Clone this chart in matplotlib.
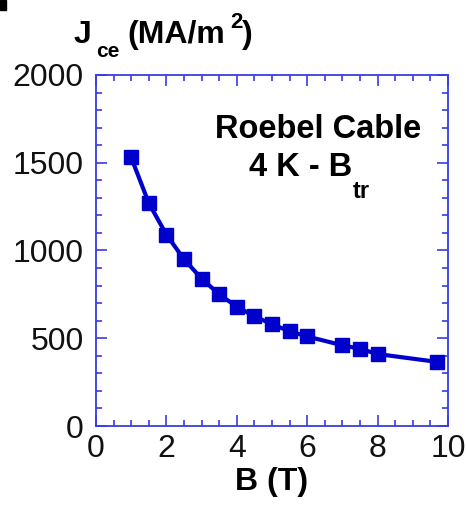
import matplotlib
matplotlib.use("Agg")
import matplotlib.pyplot as plt
from matplotlib.patches import Rectangle
from matplotlib.ticker import MultipleLocator

# Jce vs field for the Roebel cable at 4 K
B_field = [1.0, 1.5, 2.0, 2.5, 3.0, 3.5, 4.0, 4.5, 5.0, 5.5, 6.0, 7.0, 7.5, 8.0, 9.7]
J_ce = [1530, 1270, 1090, 950, 840, 750, 680, 625, 580, 540, 510, 460, 440, 410, 365]

x_ticks = [0, 2, 4, 6, 8, 10]
y_ticks = [0, 500, 1000, 1500, 2000]

W, H = 466, 505
plt.rcParams['font.family'] = ['Liberation Sans', 'DejaVu Sans']

fig = plt.figure(figsize=(W / 100, H / 100), dpi=100)
ax = fig.add_axes([96 / W, 1 - 426 / H, (448 - 96) / W, (426 - 75) / H])

line_col = '#0000cc'
axis_col = '#3a3ae6'

ax.plot(B_field, J_ce, color=line_col, lw=3.0, marker='s', ms=10.5,
        mfc=line_col, mec=line_col)

ax.set_xlim(0, 10)
ax.set_ylim(0, 2000)
ax.set_xticks(x_ticks)
ax.set_yticks(y_ticks)
ax.xaxis.set_minor_locator(MultipleLocator(0.5))
ax.yaxis.set_minor_locator(MultipleLocator(100))

for sp in ax.spines.values():
    sp.set_color(axis_col)
    sp.set_linewidth(1.3)

ax.tick_params(which='both', direction='in', top=True, right=True,
               color=axis_col, width=1.2, labelsize=23, labelcolor='#111111')
ax.tick_params(which='major', length=8)
ax.tick_params(which='minor', length=4.5)
ax.tick_params(axis='x', pad=6)
ax.tick_params(axis='y', pad=9)

ax.set_xlabel('B (T)', fontsize=23, fontweight='bold', labelpad=2)


def px(x, y):
    return x / W, 1 - y / H


# y axis label on top: J_ce (MA/m^2)
fig.text(*px(74, 43), 'J', fontsize=23, fontweight='bold', va='baseline')
fig.text(*px(96, 57), 'ce', fontsize=15, fontweight='bold', va='baseline')
fig.text(*px(127, 43), '(MA/m', fontsize=23, fontweight='bold', va='baseline')
fig.text(*px(230, 28), '2', fontsize=16, fontweight='bold', va='baseline')
fig.text(*px(242, 43), ')', fontsize=23, fontweight='bold', va='baseline')

# annotation inside the axes
fig.text(*px(318, 138), 'Roebel Cable', fontsize=23.5, fontweight='bold',
         ha='center', va='baseline')
fig.text(*px(352, 176), '4 K - B', fontsize=23.5, fontweight='bold',
         ha='right', va='baseline')
fig.text(*px(353, 198), 'tr', fontsize=17, fontweight='bold', va='baseline')

# corner mark
fig.patches.append(Rectangle((0, 1 - 10 / H), 6 / W, 10 / H,
                             transform=fig.transFigure, color='black'))

fig.savefig('out.png', dpi=100)
